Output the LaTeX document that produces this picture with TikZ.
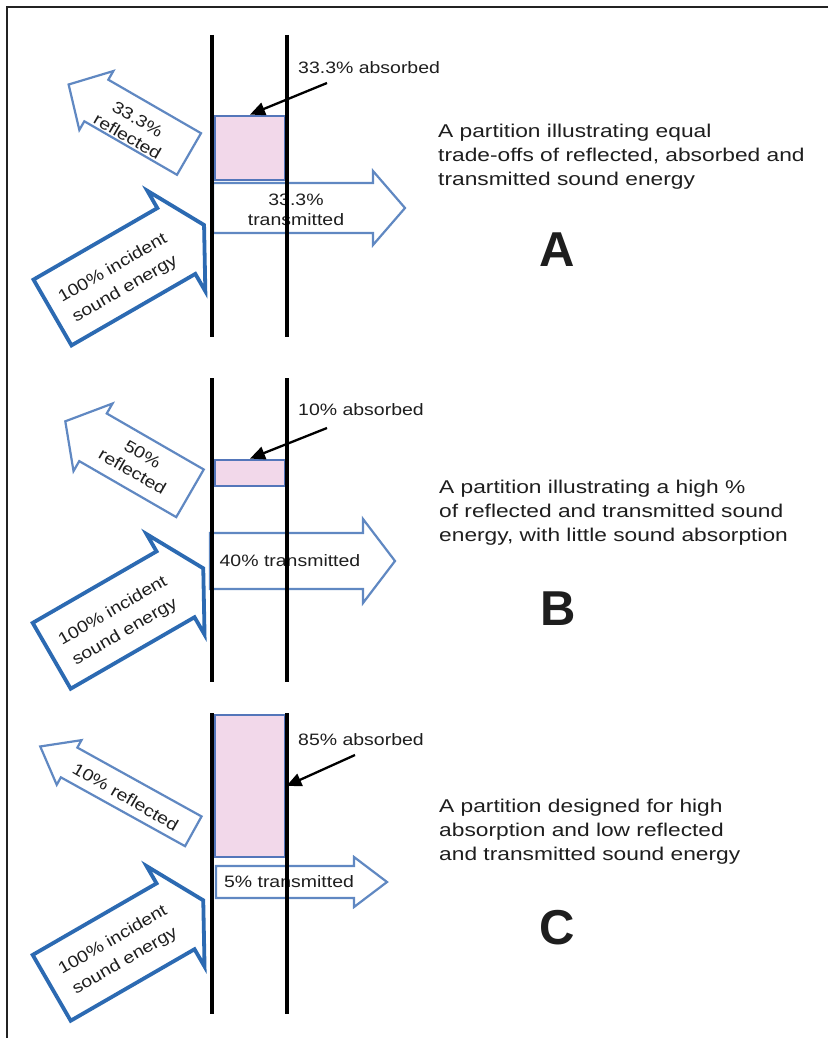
\documentclass[tikz,border=0pt]{standalone}
\usepackage{fontspec}
\setmainfont{Liberation Sans}[FakeStretch=1.18]
\newfontfamily\descfont{Liberation Sans}[FakeStretch=1.23]
\newfontfamily\plainsans{Liberation Sans}
\usetikzlibrary{arrows.meta}
\definecolor{incblue}{RGB}{44,106,178}
\definecolor{ltblue}{RGB}{96,136,194}
\definecolor{boxblue}{RGB}{84,118,186}
\definecolor{boxpink}{RGB}{242,216,234}
\definecolor{ink}{RGB}{30,30,30}
\definecolor{framegray}{RGB}{35,35,35}
\newcommand\blockarrow[7]{%
  \begin{scope}[shift={#2},rotate=#3]
    \draw[#1] (0,{-#5/2}) -- ({#4-#7},{-#5/2}) -- ({#4-#7},{-#6/2}) -- (#4,0)
      -- ({#4-#7},{#6/2}) -- ({#4-#7},{#5/2}) -- (0,{#5/2}) -- cycle;
  \end{scope}}
\tikzset{
  frameline/.style={draw=framegray, line width=2.7pt},
  wall/.style={draw=black, line width=4pt},
  incarrow/.style={draw=incblue, fill=white, line width=3.8pt, line join=miter},
  thinarrow/.style={draw=ltblue, fill=white, line width=2.2pt, line join=miter},
  absbox/.style={draw=boxblue, fill=boxpink, line width=2.8pt, inner sep=0pt},
  pointer/.style={draw=black, line width=2.3pt, -{Triangle[length=15pt,width=13pt]}},
  arrtext/.style={text=ink, align=center, inner sep=0pt, font=\fontsize{16.5}{20}\selectfont},
  inctext/.style={text=ink, align=center, inner sep=0pt, font=\fontsize{16.5}{24}\selectfont},
  label/.style={text=ink, anchor=west, inner sep=0pt, font=\fontsize{16.5}{20}\selectfont},
  desc/.style={text=ink, anchor=north west, align=left, inner sep=0pt, font=\descfont\fontsize{18.5}{24}\selectfont},
  bigletter/.style={text=ink, inner sep=0pt, font=\plainsans\bfseries\fontsize{49}{49}\selectfont}
}
\begin{document}
\begin{tikzpicture}[x=1pt,y=1pt]
\useasboundingbox (0,0) rectangle (828,-1038);
\fill[white] (0,0) rectangle (828,-1038);
\draw[frameline] (828,-7) -- (7,-7) -- (7,-1038);

% ---------------- Panel A ----------------
\blockarrow{incarrow}{(52.5,-312.5)}{30}{175}{76}{116}{32}
\blockarrow{thinarrow}{(189,-154)}{150}{139}{48}{68}{32}
\blockarrow{thinarrow}{(213,-208)}{0}{192}{50}{74}{32}
\node[inctext, rotate=30] (incA) at (119,-279) {100\% incident\\sound energy};
\node[arrtext, rotate=-30] (refA) at (132.5,-128) {33.3\%\\reflected};
\node[arrtext] (trA) at (296,-209.5) {33.3\%\\transmitted};
\node[absbox, minimum width=70pt, minimum height=64pt] (boxA) at (250,-148) {};
\draw[wall] (212,-35) -- (212,-337);
\draw[wall] (287,-35) -- (287,-337);
\node[label] (labA) at (298,-68) {33.3\% absorbed};
\coordinate (pA) at (327,-83);
\draw[pointer] (pA) -- (boxA.north);
\node[desc] (descA) at (438,-124) {A partition illustrating equal\\trade-offs of reflected, absorbed and\\transmitted sound energy};
\node[bigletter] (letA) at (557,-250) {A};

% ---------------- Panel B ----------------
\blockarrow{incarrow}{(51.7,-655.8)}{30}{175}{76}{116}{32}
\blockarrow{thinarrow}{(190,-493.3)}{150}{144}{55}{78}{32}
\blockarrow{thinarrow}{(210,-561)}{0}{185}{56}{84}{32}
\node[inctext, rotate=30] (incB) at (119,-621.7) {100\% incident\\sound energy};
\node[arrtext, rotate=-30] (refB) at (137.5,-463) {50\%\\reflected};
\node[arrtext] (trB) at (290,-561) {40\% transmitted};
\node[absbox, minimum width=70pt, minimum height=26pt] (boxB) at (250,-473) {};
\draw[wall] (212,-378) -- (212,-682);
\draw[wall] (287,-378) -- (287,-682);
\node[label] (labB) at (298,-410) {10\% absorbed};
\coordinate (pB) at (327,-428);
\draw[pointer] (pB) -- (boxB.north);
\node[desc] (descB) at (439,-479.5) {A partition illustrating a high \%\\of reflected and transmitted sound\\energy, with little sound absorption};
\node[bigletter] (letB) at (558,-609) {B};

% ---------------- Panel C ----------------
\blockarrow{incarrow}{(51.7,-987.8)}{30}{175}{76}{116}{32}
\blockarrow{thinarrow}{(193.3,-831.3)}{151}{175}{34}{51}{33}
\blockarrow{thinarrow}{(216,-882)}{0}{171}{32}{50}{33}
\node[inctext, rotate=30] (incC) at (119,-951) {100\% incident\\sound energy};
\node[arrtext, rotate=-30] (refC) at (125.7,-796.7) {10\% reflected};
\node[arrtext] (trC) at (289,-882) {5\% transmitted};
\node[absbox, minimum width=70pt, minimum height=142pt] (boxC) at (250,-786) {};
\draw[wall] (212,-713) -- (212,-1014);
\draw[wall] (287,-713) -- (287,-1014);
\node[label] (labC) at (298,-740) {85\% absorbed};
\coordinate (pC) at (355,-755);
\draw[pointer] (pC) -- (boxC.east);
\node[desc] (descC) at (439,-799) {A partition designed for high\\absorption and low reflected\\and transmitted sound energy};
\node[bigletter] (letC) at (557,-928) {C};
\end{tikzpicture}
\end{document}
